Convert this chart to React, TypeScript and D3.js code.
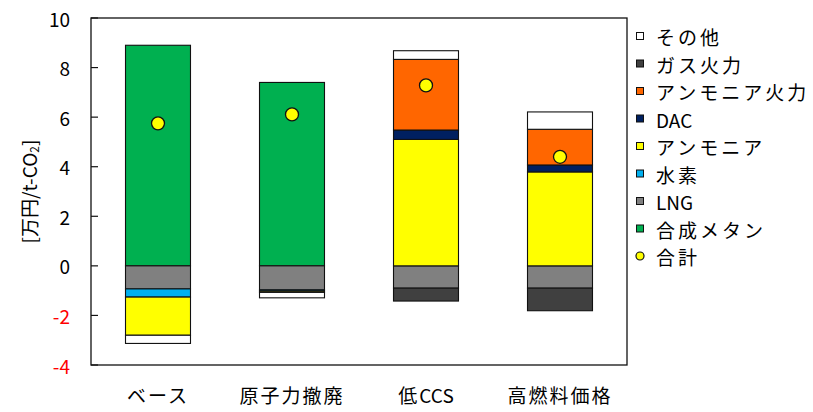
import React from "react";
import * as d3 from "d3";

const categories = ["ベース", "原子力撤廃", "低CCS", "高燃料価格"];
const seriesKeys = ["合成メタン", "LNG", "水素", "アンモニア", "DAC", "アンモニア火力", "ガス火力", "その他"];
const synthMethane = [8.9, 7.4, 0, 0];
const lng = [-0.93, -0.97, -0.9, -0.9];
const hydrogen = [-0.33, -0.05, 0, 0];
const ammonia = [-1.54, -0.05, 5.1, 3.79];
const dac = [0, 0, 0.38, 0.28];
const ammoniaPower = [0, 0, 2.85, 1.44];
const gasPower = [0, 0, -0.52, -0.91];
const other = [-0.33, -0.22, 0.35, 0.7];
const totals = [5.75, 6.11, 7.28, 4.4];
const yTicks = [-4, -2, 0, 2, 4, 6, 8, 10];
const legendOrder = ["その他", "ガス火力", "アンモニア火力", "DAC", "アンモニア", "水素", "LNG", "合成メタン"];

const colors: Record<string, string> = {
  "合成メタン": "#00B050",
  LNG: "#808080",
  "水素": "#00B0F0",
  "アンモニア": "#FFFF00",
  DAC: "#002060",
  "アンモニア火力": "#FF6600",
  "ガス火力": "#404040",
  "その他": "#FFFFFF",
};

const FONT = "'Noto Sans CJK JP', 'Noto Sans', sans-serif";

function runs(s: string, spacing: number) {
  const parts: { t: string; cjk: boolean }[] = [];
  for (const ch of s) {
    const cjk = /[\u3000-\u9fff\uff00-\uffef]/.test(ch);
    const last = parts[parts.length - 1];
    if (last && last.cjk === cjk) last.t += ch;
    else parts.push({ t: ch, cjk });
  }
  return parts.map((p, i) => (
    <tspan key={i} letterSpacing={p.cjk ? spacing : 0}>
      {p.t}
    </tspan>
  ));
}

export default function App() {
  const W = 813, H = 412;
  const left = 91, right = 627, top = 18, bottom = 365;
  const valuesByKey: Record<string, number[]> = {
    "合成メタン": synthMethane,
    LNG: lng,
    "水素": hydrogen,
    "アンモニア": ammonia,
    DAC: dac,
    "アンモニア火力": ammoniaPower,
    "ガス火力": gasPower,
    "その他": other,
  };
  const rows = categories.map((c, i) => {
    const r: any = { cat: c };
    seriesKeys.forEach((k) => (r[k] = valuesByKey[k][i]));
    return r;
  });
  const stack = d3.stack<any>().keys(seriesKeys).offset(d3.stackOffsetDiverging).order(d3.stackOrderNone);
  const layers = stack(rows);
  const y = d3.scaleLinear().domain([-4, 10]).range([bottom, top]);
  const x = d3.scaleBand<string>().domain(categories).range([left, right]).paddingInner(0.515).paddingOuter(0.2575);

  return (
    <svg width={W} height={H} style={{ position: "absolute", left: 0, top: 0, background: "#fff" }} fontFamily={FONT}>
      <rect x={0} y={0} width={W} height={H} fill="#fff" />
      {layers.map((layer) =>
        layer.map((d, i) => {
          const v = valuesByKey[layer.key][i];
          if (v === 0) return null;
          const y0 = y(Math.max(d[0], d[1]));
          const y1 = y(Math.min(d[0], d[1]));
          return (
            <rect
              key={layer.key + i}
              x={x(categories[i])!}
              y={y0}
              width={x.bandwidth()}
              height={y1 - y0}
              fill={colors[layer.key]}
              stroke="#111"
              strokeWidth={1.1}
            />
          );
        })
      )}
      <rect x={left} y={top} width={right - left} height={bottom - top} fill="none" stroke="#111" strokeWidth={1.3} />
      {yTicks.map((t) => (
        <g key={t}>
          <line x1={left} x2={left + 7} y1={y(t)} y2={y(t)} stroke="#111" strokeWidth={1.2} />
          <text x={70} y={y(t)} textAnchor="end" dominantBaseline="central" fontSize={19} fill={t < 0 ? "#FF0000" : "#000"}>
            {t}
          </text>
        </g>
      ))}
      {totals.map((t, i) => (
        <circle key={i} cx={x(categories[i])! + x.bandwidth() / 2} cy={y(t)} r={6.5} fill="#FFFF00" stroke="#111" strokeWidth={1.3} />
      ))}
      {categories.map((c) => (
        <text key={c} x={x(c)! + x.bandwidth() / 2} y={403} textAnchor="middle" fontSize={19} fill="#000">
          {runs(c, 2)}
        </text>
      ))}
      <text transform={`translate(28, ${(top + bottom) / 2}) rotate(-90)`} textAnchor="middle" dominantBaseline="central" fontSize={19} fill="#000">
        [万円/t-CO<tspan fontSize={12} dy={5}>2</tspan>
        <tspan dy={-5}>]</tspan>
      </text>
      {legendOrder.map((k, i) => {
        const cy = 36 + 27.5 * i;
        return (
          <g key={k}>
            <rect x={636.5} y={cy - 3.5} width={7} height={7} fill={colors[k]} stroke="#111" strokeWidth={1} />
            <text x={656} y={cy} dominantBaseline="central" fontSize={19} fill="#000">
              {runs(k, 3)}
            </text>
          </g>
        );
      })}
      <circle cx={640} cy={36 + 27.5 * 8} r={4} fill="#FFFF00" stroke="#111" strokeWidth={1.2} />
      <text x={656} y={36 + 27.5 * 8} dominantBaseline="central" fontSize={19} fill="#000">
        {runs("合計", 3)}
      </text>
    </svg>
  );
}
